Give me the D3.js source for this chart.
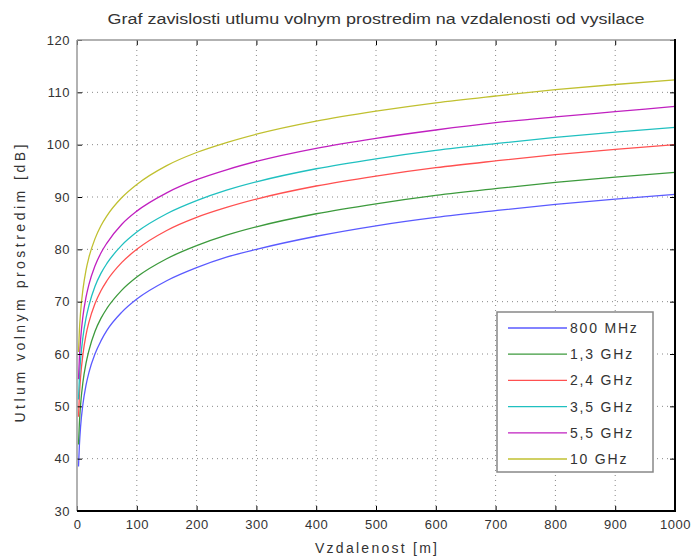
<!DOCTYPE html>
<html><head><meta charset="utf-8">
<script src="https://cdn.jsdelivr.net/npm/d3@7"></script>
<style>body{margin:0;background:#fff}text{font-family:"Liberation Sans",Arial,sans-serif;fill:#333}</style>
</head><body><svg id="c" width="693" height="559"></svg>
<script>
const distances = [2.5, 4, 6, 10, 15, 20, 30, 40, 50, 75, 100, 150, 200, 250, 300, 400, 500, 600, 700, 800, 900, 1000];
const s800 = [38.5, 42.5, 46.1, 50.5, 54.0, 56.5, 60.0, 62.5, 64.5, 68.0, 70.5, 74.0, 76.5, 78.5, 80.0, 82.5, 84.5, 86.1, 87.4, 88.6, 89.6, 90.5];
const s1300 = [42.7, 46.8, 50.3, 54.7, 58.2, 60.7, 64.3, 66.8, 68.7, 72.2, 74.7, 78.2, 80.7, 82.7, 84.3, 86.8, 88.7, 90.3, 91.6, 92.8, 93.8, 94.7];
const s2400 = [48.0, 52.1, 55.6, 60.0, 63.6, 66.1, 69.6, 72.1, 74.0, 77.5, 80.0, 83.6, 86.1, 88.0, 89.6, 92.1, 94.0, 95.6, 96.9, 98.1, 99.1, 100.0];
const s3500 = [51.3, 55.4, 58.9, 63.3, 66.8, 69.3, 72.9, 75.4, 77.3, 80.8, 83.3, 86.8, 89.3, 91.3, 92.9, 95.4, 97.3, 98.9, 100.2, 101.4, 102.4, 103.3];
const s5500 = [55.2, 59.3, 62.8, 67.3, 70.8, 73.3, 76.8, 79.3, 81.2, 84.8, 87.3, 90.8, 93.3, 95.2, 96.8, 99.3, 101.2, 102.8, 104.2, 105.3, 106.3, 107.3];
const s10000 = [60.4, 64.5, 68.0, 72.4, 76.0, 78.5, 82.0, 84.5, 86.4, 89.9, 92.4, 96.0, 98.5, 100.4, 102.0, 104.5, 106.4, 108.0, 109.3, 110.5, 111.5, 112.4];
const seriesNames = ["800 MHz", "1,3 GHz", "2,4 GHz", "3,5 GHz", "5,5 GHz", "10 GHz"];
const seriesValues = [s800, s1300, s2400, s3500, s5500, s10000];
const xTicks = [0, 100, 200, 300, 400, 500, 600, 700, 800, 900, 1000];
const yTicks = [30, 40, 50, 60, 70, 80, 90, 100, 110, 120];
const colors = ["#5a5aff", "#3c9a3c", "#ff5050", "#20c0c0", "#c020c0", "#c0c030"];

const svg = d3.select("#c");
const L = 77, R = 675, T = 40, B = 511;
const x = d3.scaleLinear().domain([0, 1000]).range([L, R]);
const y = d3.scaleLinear().domain([30, 120]).range([B, T]);

// grid
const g = svg.append("g");
g.selectAll(".gx").data(xTicks.slice(1, -1)).enter().append("line")
  .attr("x1", d => x(d)).attr("x2", d => x(d)).attr("y1", T).attr("y2", B)
  .attr("stroke", "#888").attr("stroke-width", 1).attr("stroke-dasharray", "1,4");
g.selectAll(".gy").data(yTicks.slice(1, -1)).enter().append("line")
  .attr("y1", d => y(d)).attr("y2", d => y(d)).attr("x1", L).attr("x2", R)
  .attr("stroke", "#888").attr("stroke-width", 1).attr("stroke-dasharray", "1,4");

// lines
const line = d3.line().x((d, i) => x(distances[i])).y(d => y(d)).curve(d3.curveMonotoneX);
seriesValues.forEach((vals, k) => {
  svg.append("path").datum(vals).attr("d", line).attr("fill", "none")
    .attr("stroke", colors[k]).attr("stroke-width", 1.3);
});

// axes
const xb = svg.append("g").attr("transform", `translate(0,${B})`)
  .call(d3.axisBottom(x).tickValues(xTicks).tickSize(-5).tickPadding(9).tickFormat(d3.format("d")));
const xt = svg.append("g").attr("transform", `translate(0,${T})`)
  .call(d3.axisTop(x).tickValues(xTicks).tickSize(-5).tickFormat(""));
const yl = svg.append("g").attr("transform", `translate(${L},0)`)
  .call(d3.axisLeft(y).tickValues(yTicks).tickSize(-5).tickPadding(7).tickFormat(d3.format("d")));
const yr = svg.append("g").attr("transform", `translate(${R},0)`)
  .call(d3.axisRight(y).tickValues(yTicks).tickSize(-5).tickFormat(""));
[xb, xt, yl, yr].forEach(a => {
  a.select(".domain").remove();
  a.selectAll(".tick line").attr("stroke", "#000");
  a.selectAll("text").attr("font-size", 13).attr("fill", "#333").attr("letter-spacing", 0.5)
    .attr("font-family", "Liberation Sans, Arial, sans-serif");
});
// frame
svg.append("line").attr("x1", L).attr("x2", R).attr("y1", T).attr("y2", T).attr("stroke", "#999").attr("stroke-width", 1.5);
svg.append("line").attr("x1", L).attr("x2", L).attr("y1", T).attr("y2", B).attr("stroke", "#999").attr("stroke-width", 1.5);
svg.append("line").attr("x1", L).attr("x2", R + 1).attr("y1", B).attr("y2", B).attr("stroke", "#000").attr("stroke-width", 2);
svg.append("line").attr("x1", R).attr("x2", R).attr("y1", T - 1).attr("y2", B).attr("stroke", "#000").attr("stroke-width", 2);

// title & labels
svg.append("text").attr("x", (L + R) / 2).attr("y", 24).attr("text-anchor", "middle")
  .attr("font-size", 14).attr("textLength", 537).attr("lengthAdjust", "spacingAndGlyphs")
  .text("Graf zavislosti utlumu volnym prostredim na vzdalenosti od vysilace");
svg.append("text").attr("x", (L + R) / 2).attr("y", 553).attr("text-anchor", "middle")
  .attr("font-size", 14).attr("textLength", 122).text("Vzdalenost [m]");
svg.append("text").attr("transform", `translate(25,${(T + B) / 2 + 8}) rotate(-90)`).attr("text-anchor", "middle")
  .attr("font-size", 14).attr("textLength", 278).text("Utlum volnym prostredim [dB]");

// legend
const lg = svg.append("g");
lg.append("rect").attr("x", 497).attr("y", 312).attr("width", 156).attr("height", 160)
  .attr("fill", "#fff").attr("stroke", "#888").attr("stroke-width", 1.5);
seriesNames.forEach((n, k) => {
  const yy = 328 + k * 26.2;
  lg.append("line").attr("x1", 508).attr("x2", 567).attr("y1", yy).attr("y2", yy)
    .attr("stroke", colors[k]).attr("stroke-width", 1.3);
  lg.append("text").attr("x", 570).attr("y", yy + 5).attr("font-size", 14).attr("letter-spacing", 1.8).text(n);
});
</script></body></html>
